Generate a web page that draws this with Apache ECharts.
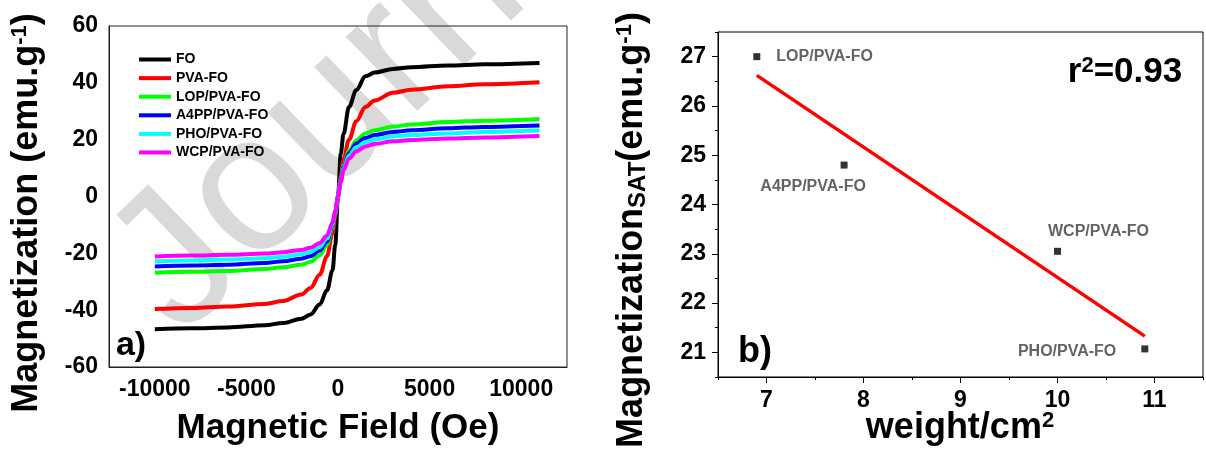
<!DOCTYPE html>
<html lang="en">
<head>
    <meta charset="UTF-8">
    <title>Magnetization curves and M_SAT vs weight</title>
    <script src="https://cdn.jsdelivr.net/npm/echarts@6/dist/echarts.min.js"></script>
    <style>
        body {
            margin: 0;
            padding: 0;
            background-color: #ffffff;
        }

        #chart {
            width: 1206px;
            height: 459px;
        }
    </style>
</head>
<body>
    <div id="chart"></div>

    <script>
        // panel a) - hysteresis curves (field in Oe, magnetization in emu/g)
        const fieldOe = [-10000, -8000, -6000, -4000, -3000, -2000, -1500, -1000, -600, -300, -150, 0,
            150, 300, 600, 1000, 1500, 2000, 3000, 4000, 6000, 8000, 11000];

        const curveNames = ['FO', 'PVA-FO', 'LOP/PVA-FO', 'A4PP/PVA-FO', 'PHO/PVA-FO', 'WCP/PVA-FO'];
        const curveColors = ['#000000', '#ff0000', '#00ff00', '#0000ff', '#00ffff', '#ff00ff'];

        const magFO = [-46.7, -46.4, -46.1, -45.3, -44.5, -43.0, -41.5, -38.0, -33.0, -26.0, -17.0, 0,
            15.0, 22.0, 31.5, 37.5, 42.3, 43.6, 44.9, 45.5, 46.1, 46.5, 47.0];
        const magPVA = [-39.6, -39.2, -38.7, -37.8, -36.8, -34.5, -32.2, -27.5, -21.0, -13.0, -7.0, 0,
            7.0, 13.0, 20.0, 26.5, 31.5, 33.8, 36.5, 37.6, 38.8, 39.5, 40.2];
        const magLOP = [-26.8, -26.5, -26.2, -25.5, -24.9, -24.0, -23.0, -20.7, -17.0, -11.0, -6.0, 0,
            6.0, 11.0, 16.0, 19.8, 22.2, 23.3, 24.6, 25.3, 26.2, 26.7, 27.3];
        const magA4PP = [-24.6, -24.3, -24.0, -23.4, -22.8, -21.9, -21.0, -19.0, -15.8, -10.3, -5.6, 0,
            5.6, 10.3, 15.2, 18.6, 20.6, 21.6, 22.7, 23.3, 24.0, 24.5, 25.0];
        const magPHO = [-22.8, -22.5, -22.2, -21.7, -21.2, -20.3, -19.5, -17.8, -14.8, -9.8, -5.3, 0,
            5.3, 9.8, 14.4, 17.3, 19.2, 20.1, 21.1, 21.6, 22.2, 22.7, 23.2];
        const magWCP = [-21.1, -20.8, -20.5, -20.1, -19.6, -18.8, -18.0, -16.4, -13.7, -9.2, -5.0, 0,
            5.0, 9.2, 13.3, 15.9, 17.6, 18.5, 19.4, 19.9, 20.4, 20.8, 21.3];

        const fieldTicks = [-10000, -5000, 0, 5000, 10000];

        // panel b) - saturation magnetization vs weight
        const sampleNames = ['LOP/PVA-FO', 'A4PP/PVA-FO', 'WCP/PVA-FO', 'PHO/PVA-FO'];
        const weights = [6.9, 7.8, 10.0, 10.9];
        const msat = [27.0, 24.8, 23.05, 21.07];
        const fitX = [6.9, 10.9];
        const fitY = [26.62, 21.33];
        const weightTicks = [7, 8, 9, 10, 11];
        const msatTicks = [21, 22, 23, 24, 25, 26, 27];

        const FONT = '"Liberation Sans", Arial, sans-serif';

        const chart = echarts.init(document.getElementById('chart'));

        const allCurves = [magFO, magPVA, magLOP, magA4PP, magPHO, magWCP];
        const curveSeries = curveNames.map((name, i) => ({
            name: name,
            type: 'line',
            xAxisIndex: 0,
            yAxisIndex: 0,
            showSymbol: false,
            symbol: 'none',
            smooth: 0.35,
            smoothMonotone: 'x',
            lineStyle: { width: 4, color: curveColors[i] },
            itemStyle: { color: curveColors[i] },
            data: fieldOe.map((f, j) => [f, allCurves[i][j]])
        }));

        // where each point label sits around its marker
        const labelPlace = {
            'LOP/PVA-FO': { position: 'right', offset: [11, 0] },
            'A4PP/PVA-FO': { position: 'bottom', offset: [-31, 5] },
            'WCP/PVA-FO': { position: 'top', offset: [41, -3] },
            'PHO/PVA-FO': { position: 'left', offset: [-20, 3] }
        };

        const scatterData = sampleNames.map((name, i) => ({
            value: [weights[i], msat[i]],
            name: name,
            label: {
                show: true,
                formatter: name,
                position: labelPlace[name].position,
                offset: labelPlace[name].offset
            }
        }));

        const tickLabel = {
            fontFamily: FONT,
            fontSize: 23,
            fontWeight: 'bold',
            color: '#000',
            formatter: v => String(v)
        };

        const option = {
            animation: false,
            backgroundColor: '#ffffff',
            grid: [
                { left: 109, top: 26, width: 458, height: 341, show: true, borderColor: '#222', borderWidth: 1 },
                { left: 718, top: 32, width: 485, height: 345, show: true, borderColor: '#000', borderWidth: 1 }
            ],
            legend: {
                data: curveNames,
                orient: 'vertical',
                left: 134,
                top: 47,
                icon: 'rect',
                itemWidth: 32,
                itemHeight: 4,
                itemGap: 3.6,
                textStyle: { fontFamily: FONT, fontSize: 14, fontWeight: 'bold', color: '#000', lineHeight: 15 }
            },
            xAxis: [
                {
                    gridIndex: 0, type: 'value', min: -12500, max: 12500,
                    axisLine: { show: true, onZero: false, lineStyle: { color: '#222', width: 1 } },
                    axisTick: { show: false },
                    splitLine: { show: false },
                    axisLabel: Object.assign({ customValues: fieldTicks, margin: 11 }, tickLabel)
                },
                {
                    gridIndex: 1, type: 'value', min: 6.5, max: 11.5, interval: 0.5,
                    axisLine: { show: true, onZero: false, lineStyle: { color: '#000', width: 1 } },
                    axisTick: { show: true, length: 3, lineStyle: { color: '#000' } },
                    splitLine: { show: false },
                    axisLabel: Object.assign({ customValues: weightTicks, margin: 12 }, tickLabel)
                },
                {
                    gridIndex: 1, type: 'value', min: 6.5, max: 11.5, position: 'bottom',
                    axisLine: { show: false, onZero: false },
                    axisTick: { show: true, length: 6, customValues: weightTicks, lineStyle: { color: '#000' } },
                    splitLine: { show: false },
                    axisLabel: { show: false }
                }
            ],
            yAxis: [
                {
                    gridIndex: 0, type: 'value', min: -60, max: 60, interval: 20,
                    axisLine: { show: true, onZero: false, lineStyle: { color: '#222', width: 1 } },
                    axisTick: { show: false },
                    splitLine: { show: false },
                    axisLabel: Object.assign({ margin: 11 }, tickLabel)
                },
                {
                    gridIndex: 1, type: 'value', min: 20.5, max: 27.5, interval: 0.5,
                    axisLine: { show: true, onZero: false, lineStyle: { color: '#000', width: 1 } },
                    axisTick: { show: true, length: 3, lineStyle: { color: '#000' } },
                    splitLine: { show: false },
                    axisLabel: Object.assign({ customValues: msatTicks, margin: 12 }, tickLabel)
                },
                {
                    gridIndex: 1, type: 'value', min: 20.5, max: 27.5, position: 'left',
                    axisLine: { show: false, onZero: false },
                    axisTick: { show: true, length: 6, customValues: msatTicks, lineStyle: { color: '#000' } },
                    splitLine: { show: false },
                    axisLabel: { show: false }
                }
            ],
            graphic: [
                // watermark behind the curves
                {
                    type: 'text', x: 212, y: 370, rotation: 44 * Math.PI / 180, z: -10, silent: true,
                    style: {
                        text: 'Journal', fill: '#d9d9d9',
                        font: '195px ' + FONT, textAlign: 'left', textVerticalAlign: 'bottom'
                    }
                },
                {
                    type: 'text', x: 27, y: 213, rotation: Math.PI / 2,
                    style: {
                        text: 'Magnetization (emu.g{sup|-1})', fill: '#000',
                        font: 'bold 36px ' + FONT, textAlign: 'center', textVerticalAlign: 'middle',
                        rich: { sup: { fontSize: 22, fontWeight: 'bold', fontFamily: FONT, verticalAlign: 'top', fill: '#000' } }
                    }
                },
                {
                    type: 'text', x: 338, y: 428,
                    style: {
                        text: 'Magnetic Field (Oe)', fill: '#000',
                        font: 'bold 35px ' + FONT, textAlign: 'center', textVerticalAlign: 'middle'
                    }
                },
                {
                    type: 'text', x: 131, y: 346,
                    style: { text: 'a)', fill: '#000', font: 'bold 34px ' + FONT, textAlign: 'center', textVerticalAlign: 'middle' }
                },
                {
                    type: 'text', x: 632, y: 230, rotation: Math.PI / 2,
                    style: {
                        text: 'Magnetization{sub|SAT}(emu.g{sup|-1})', fill: '#000',
                        font: 'bold 36px ' + FONT, textAlign: 'center', textVerticalAlign: 'middle',
                        rich: {
                            sub: { fontSize: 24, fontWeight: 'bold', fontFamily: FONT, verticalAlign: 'bottom', fill: '#000' },
                            sup: { fontSize: 22, fontWeight: 'bold', fontFamily: FONT, verticalAlign: 'top', fill: '#000' }
                        }
                    }
                },
                {
                    type: 'text', x: 960, y: 428,
                    style: {
                        text: 'weight/cm{sup|2}', fill: '#000',
                        font: 'bold 36px ' + FONT, textAlign: 'center', textVerticalAlign: 'middle',
                        rich: { sup: { fontSize: 22, fontWeight: 'bold', fontFamily: FONT, verticalAlign: 'top', fill: '#000' } }
                    }
                },
                {
                    type: 'text', x: 755, y: 352,
                    style: { text: 'b)', fill: '#000', font: 'bold 36px ' + FONT, textAlign: 'center', textVerticalAlign: 'middle' }
                },
                {
                    type: 'text', x: 1125, y: 72,
                    style: {
                        text: 'r{sup|2}=0.93', fill: '#000',
                        font: 'bold 35px ' + FONT, textAlign: 'center', textVerticalAlign: 'middle',
                        rich: { sup: { fontSize: 22, fontWeight: 'bold', fontFamily: FONT, verticalAlign: 'top', fill: '#000' } }
                    }
                }
            ],
            series: curveSeries.concat([
                {
                    name: 'fit',
                    type: 'line',
                    xAxisIndex: 1,
                    yAxisIndex: 1,
                    symbol: 'none',
                    lineStyle: { width: 3.5, color: '#ff0000' },
                    data: fitX.map((x, i) => [x, fitY[i]])
                },
                {
                    name: 'Msat',
                    type: 'scatter',
                    xAxisIndex: 1,
                    yAxisIndex: 1,
                    symbol: 'rect',
                    symbolSize: 7,
                    itemStyle: { color: '#000' },
                    label: { fontFamily: FONT, fontSize: 16, fontWeight: 'bold', color: '#3c3c3c' },
                    data: scatterData
                }
            ])
        };

        chart.setOption(option);
    </script>
</body>
</html>
